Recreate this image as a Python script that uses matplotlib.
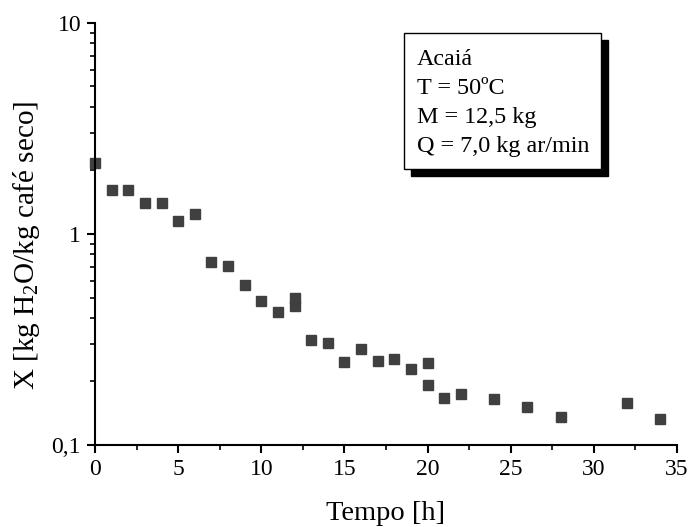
"""Secagem de café Acaiá: umidade X versus tempo (escala log)."""

import matplotlib
matplotlib.use("Agg")
import matplotlib.pyplot as plt
from matplotlib.patches import Rectangle
from matplotlib.ticker import FixedLocator, MultipleLocator, LogLocator, NullFormatter

plt.rcParams["font.family"] = ["Liberation Serif", "DejaVu Serif"]
plt.rcParams["mathtext.fontset"] = "custom"
plt.rcParams["mathtext.rm"] = "Liberation Serif"
plt.rcParams["mathtext.it"] = "Liberation Serif:italic"

# Dados
tempo = [0, 1, 2, 3, 4, 5, 6, 7, 8, 9, 10, 11, 12, 12, 13, 14, 15, 16, 17,
         18, 19, 20, 20, 21, 22, 24, 26, 28, 32, 34]
umidade = [2.17, 1.62, 1.62, 1.40, 1.40, 1.15, 1.24, 0.737, 0.705, 0.573,
           0.481, 0.427, 0.50, 0.455, 0.315, 0.304, 0.247, 0.285, 0.25,
           0.256, 0.229, 0.245, 0.192, 0.167, 0.174, 0.165, 0.152, 0.136,
           0.158, 0.133]

x_ticks = [0, 5, 10, 15, 20, 25, 30, 35]
y_ticks = [0.1, 1, 10]
y_tick_labels = ["0,1", "1", "10"]
legenda = ["Acaiá", "T = 50ºC", "M = 12,5 kg", "Q = 7,0 kg ar/min"]

fig = plt.figure(figsize=(6.91, 5.27), dpi=100)
ax = fig.add_axes([0.1375, 0.1556, 0.8423, 0.8008])

ax.plot(tempo, umidade, "s", color="#404040", markersize=7.5, clip_on=False)

ax.set_yscale("log")
ax.set_xlim(0, 35)
ax.set_ylim(0.1, 10)
ax.xaxis.set_major_locator(FixedLocator(x_ticks))
ax.xaxis.set_minor_locator(MultipleLocator(2.5))
ax.yaxis.set_major_locator(FixedLocator(y_ticks))
ax.set_yticklabels(y_tick_labels)
ax.yaxis.set_minor_locator(LogLocator(base=10, subs=range(2, 10)))
ax.yaxis.set_minor_formatter(NullFormatter())

for s in ["top", "right"]:
    ax.spines[s].set_visible(False)
for s in ["left", "bottom"]:
    ax.spines[s].set_linewidth(1.5)
ax.tick_params(which="major", direction="out", length=6, width=1.5,
               labelsize=17, colors="black", pad=4)
ax.tick_params(which="minor", direction="out", length=3.5, width=1.2)

ax.set_xlabel("Tempo [h]", fontsize=20.5, labelpad=15)
ax.set_ylabel("X [kg H$_2$O/kg café seco]", fontsize=21, labelpad=7)
ax.yaxis.label.set_y(0.472)

# Caixa de legenda com sombra
box_x0, box_y0, box_w, box_h = 404 / 691, 1 - 169 / 527, 197 / 691, 136 / 527
shadow = Rectangle((box_x0 + 7 / 691, box_y0 - 7 / 527), box_w, box_h,
                   transform=fig.transFigure, facecolor="black",
                   edgecolor="black", zorder=5)
box = Rectangle((box_x0, box_y0), box_w, box_h, transform=fig.transFigure,
                facecolor="white", edgecolor="black", linewidth=1.0, zorder=6)
fig.patches.extend([shadow, box])
fig.text(box_x0 + 13 / 691, box_y0 + box_h - 16 / 527, "\n".join(legenda),
         fontsize=17.4, va="top", ha="left", linespacing=1.5, zorder=7)

fig.savefig("out.png", dpi=100, facecolor="white")
